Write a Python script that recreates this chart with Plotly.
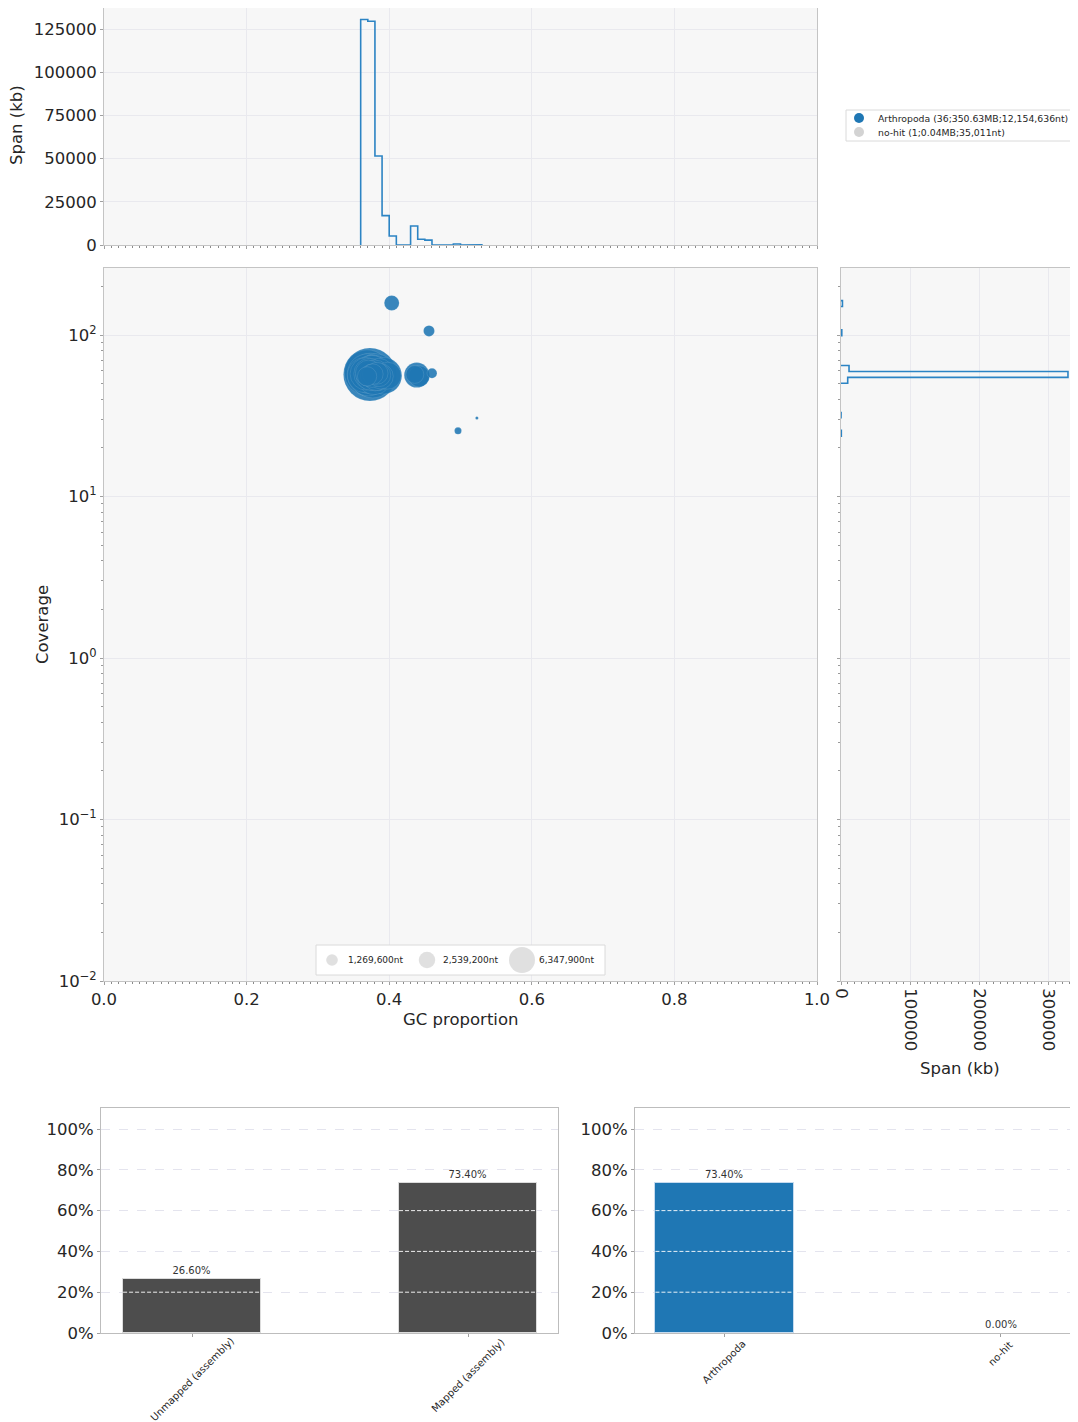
import numpy as np
import plotly.graph_objects as go

# page is rendered with an 8px body margin: work in page pixels, convert to figure fractions
OFF = 8
W, H = 1070, 1414
PW, PH = W + OFF, H + OFF
FONT = "DejaVu Sans"
TXT = "#262626"
BLUE = "#1f77b4"
GREY = "#d3d3d3"
PANEL = "#f7f7f7"
GRID = "#e9e9ee"
LINE = "#c4c4c4"
FS = 16.5


def fx(p):
    return min(1.0, max(0.0, (p - OFF) / W))


def fy(p):
    return min(1.0, max(0.0, 1 - (p - OFF) / H))


# ---------------- data ----------------
# Arthropoda contigs: GC, coverage, length (nt)
contig_gc = [0.373, 0.369, 0.374, 0.377, 0.370, 0.381, 0.378, 0.371, 0.392, 0.375,
             0.373, 0.366, 0.376, 0.379, 0.368, 0.385, 0.380, 0.372, 0.374, 0.382,
             0.398, 0.371, 0.388, 0.4386, 0.376, 0.386, 0.383, 0.442, 0.377, 0.369,
             0.436, 0.4035, 0.4558, 0.460, 0.4965, 0.523]
contig_cov = [57.0, 58.5, 56.5, 55.5, 57.0, 57.5, 57.0, 55.0, 56.0, 58.0,
              55.8, 56.5, 58.5, 54.5, 57.5, 57.0, 56.2, 57.5, 56.0, 55.0,
              56.0, 58.0, 55.5, 56.5, 56.0, 56.5, 58.0, 55.5, 57.2, 55.5,
              57.0, 158.0, 106.0, 58.0, 25.5, 30.6]
contig_len = [26400000, 19500000, 18000000, 17500000, 16000000, 15000000, 14000000, 13500000, 12600000, 12154636,
              12000000, 11500000, 11000000, 10800000, 10000000, 9800000, 9000000, 9000000, 8000000, 7000000,
              6800000, 6500000, 6000000, 5900000, 5200000, 5000000, 4500000, 4200000, 4000000, 3500000,
              3000000, 2100000, 1140000, 940000, 460000, 85000]
# no-hit contig
nohit_gc = [0.497]
nohit_cov = [26.0]
nohit_len = [35011]

# GC histogram (span in kb per 0.01 GC bin)
gc_bin_lo = [0.36, 0.37, 0.38, 0.39, 0.40, 0.41, 0.42, 0.43, 0.44, 0.45,
             0.46, 0.47, 0.48, 0.49, 0.50, 0.51, 0.52]
gc_bin_width = 0.01
gc_span_kb = [130500, 129500, 51500, 17000, 5200, 0, 0, 11000, 3300, 2800,
              0, 0, 0, 600, 0, 0, 150]

# coverage histogram (log10 bins, span in kb)
cov_bin_lo_log = [1.374, 1.4835, 1.7015, 1.738, 1.7745, 1.9955, 2.1765]
cov_bin_width_log = 0.0365
cov_span_kb = [460, 120, 9700, 328000, 11600, 1140, 2100]

# bar charts
map_cats = ["Unmapped (assembly)", "Mapped (assembly)"]
map_pct = [26.60, 73.40]
tax_cats = ["Arthropoda", "no-hit"]
tax_pct = [73.40, 0.00]

legend_labels = ["Arthropoda (36;350.63MB;12,154,636nt)", "no-hit (1;0.04MB;35,011nt)"]
legend_colors = [BLUE, GREY]
size_legend_nt = [1269600, 2539200, 6347900]
size_legend_labels = ["1,269,600nt", "2,539,200nt", "6,347,900nt"]

SIZE_K = 26.0 / np.sqrt(6347900)


def diam(lengths):
    return [SIZE_K * np.sqrt(v) for v in lengths]


def step_outline(lo, width, vals):
    """Step outline; separate runs of adjacent bins are broken with None."""
    pos, val = [], []
    prev_end = None
    for l, v in zip(lo, vals):
        if prev_end is None or l > prev_end + 1e-9:
            if prev_end is not None:
                pos += [prev_end, None]
                val += [0, None]
            pos.append(l)
            val.append(0)
        pos += [l, l + width]
        val += [v, v]
        prev_end = l + width
    pos.append(prev_end)
    val.append(0)
    return pos, val


fig = go.Figure()

# top histogram
gx, gy = step_outline(gc_bin_lo, gc_bin_width, gc_span_kb)
fig.add_trace(go.Scatter(x=gx, y=gy, mode="lines", line=dict(color="#2c84c4", width=1.6),
                         xaxis="x", yaxis="y", hoverinfo="skip", connectgaps=False))

# scatter
fig.add_trace(go.Scatter(x=nohit_gc, y=nohit_cov, mode="markers", xaxis="x2", yaxis="y2",
                         marker=dict(size=diam(nohit_len), sizemode="diameter", color=GREY,
                                     line=dict(width=0))))
order = np.argsort(contig_len)[::-1]
fig.add_trace(go.Scatter(x=[contig_gc[i] for i in order], y=[contig_cov[i] for i in order],
                         mode="markers", xaxis="x2", yaxis="y2",
                         marker=dict(size=diam([contig_len[i] for i in order]), sizemode="diameter",
                                     color=BLUE, opacity=0.88,
                                     line=dict(width=0.5, color="rgba(255,255,255,0.25)"))))

# right histogram
cl, cv = step_outline(cov_bin_lo_log, cov_bin_width_log, cov_span_kb)
fig.add_trace(go.Scatter(x=cv, y=[None if p is None else 10 ** p for p in cl], mode="lines",
                         line=dict(color="#2c84c4", width=1.6), xaxis="x3", yaxis="y3",
                         hoverinfo="skip", connectgaps=False))

# bars
fig.add_trace(go.Bar(x=map_cats, y=map_pct, xaxis="x4", yaxis="y4", width=0.5,
                     marker=dict(color="#4d4d4d", line=dict(color="#dcdcdc", width=1)),
                     text=[f"{v:.2f}%" for v in map_pct], textposition="outside",
                     textfont=dict(family=FONT, size=10, color="#333333"), cliponaxis=False))
fig.add_trace(go.Bar(x=tax_cats, y=tax_pct, xaxis="x5", yaxis="y5", width=0.5,
                     marker=dict(color=BLUE, line=dict(color="#c6dbef",
                                                       width=[1 if v > 0 else 0 for v in tax_pct])),
                     text=[f"{v:.2f}%" for v in tax_pct], textposition="outside",
                     textfont=dict(family=FONT, size=10, color="#333333"), cliponaxis=False))

# legends (page-pixel overlay axis)
fig.add_trace(go.Scatter(x=[859, 859], y=[118, 132], mode="markers", xaxis="x6", yaxis="y6",
                         marker=dict(size=10, color=legend_colors, line=dict(width=0)), hoverinfo="skip"))
fig.add_trace(go.Scatter(x=[332, 427, 522], y=[960, 960, 960], mode="markers", xaxis="x6", yaxis="y6",
                         marker=dict(size=diam(size_legend_nt), sizemode="diameter", color=GREY,
                                     line=dict(width=0)), hoverinfo="skip"))


def ax(**kw):
    d = dict(showline=True, linecolor=LINE, linewidth=1, mirror=True, showgrid=True,
             gridcolor=GRID, gridwidth=1, zeroline=False, ticks="outside", ticklen=3,
             tickcolor="#a0a0a0", automargin=False,
             tickfont=dict(family=FONT, size=FS, color=TXT))
    d.update(kw)
    return d


main_y_dom = [fy(981), fy(268)]
decades = [0.01, 0.1, 1, 10, 100]
dec_text = ["10<sup>−2</sup>", "10<sup>−1</sup>", "10<sup>0</sup>", "10<sup>1</sup>", "10<sup>2</sup>"]
log_minor = [m * d for d in decades for m in range(2, 10)]
bar_dom = [fy(1333), fy(1108)]
pct_vals = [0, 20, 40, 60, 80, 100]
span_ticks = [0, 25000, 50000, 75000, 100000, 125000]
span_ticks_r = [0, 100000, 200000, 300000]
# top histogram: 0 at page y 245, 125000 at page y 29; plot top clipped at page y 8
kb_per_px = 125000 / (245 - 29)
top_range_max = (245 - OFF) * kb_per_px

minor_gc = dict(ticks="outside", ticklen=2, tickcolor="#8a8a8a", dtick=0.01, tick0=0, showgrid=False)
minor_log = dict(ticks="outside", ticklen=2, tickcolor="#9a9a9a", tickmode="array", tickvals=log_minor,
                 showgrid=False)

fig.update_layout(
    width=W, height=H, margin=dict(l=0, r=0, t=0, b=0, pad=0), template="none",
    paper_bgcolor="white", plot_bgcolor="rgba(0,0,0,0)", showlegend=False,
    font=dict(family=FONT, color=TXT, size=FS), bargap=0,
    xaxis=ax(domain=[fx(104), fx(817)], range=[0, 1], dtick=0.2, tick0=0, showticklabels=False,
             anchor="y", minor=minor_gc),
    yaxis=ax(domain=[fy(245), fy(OFF)], range=[0, top_range_max],
             tickvals=span_ticks, ticktext=[str(v) for v in span_ticks], anchor="x"),
    xaxis2=ax(domain=[fx(104), fx(817)], range=[0, 1], dtick=0.2, tick0=0,
              tickformat=".1f", anchor="y2", minor=minor_gc),
    yaxis2=ax(domain=main_y_dom, type="log", range=[-2, 2.415], tickvals=decades, ticktext=dec_text,
              anchor="x2", minor=minor_log),
    xaxis3=ax(domain=[fx(841), 1], range=[0, 342500], dtick=100000, tick0=0,
              tickformat="d", tickangle=90, anchor="y3",
              minor=dict(ticks="outside", ticklen=2, tickcolor="#8a8a8a", dtick=10000, tick0=0,
                         showgrid=False)),
    yaxis3=ax(domain=main_y_dom, type="log", range=[-2, 2.415], tickvals=decades,
              showticklabels=False, anchor="x3", mirror=False, minor=minor_log),
    xaxis4=ax(domain=[fx(101), fx(558)], type="category", range=[-0.33, 1.326], showticklabels=False,
              showgrid=False, anchor="y4", linecolor="#bdbdbd"),
    yaxis4=ax(domain=bar_dom, range=[0, 110.3], tickvals=pct_vals, ticktext=[f"{v}%" for v in pct_vals],
              griddash="dash", gridcolor="#e4e4ee", anchor="x4", linecolor="#bdbdbd"),
    xaxis5=ax(domain=[fx(635), 1], type="category", range=[-0.324, 1.28], showticklabels=False,
              showgrid=False, anchor="y5", linecolor="#bdbdbd"),
    yaxis5=ax(domain=bar_dom, range=[0, 110.3], tickvals=pct_vals, ticktext=[f"{v}%" for v in pct_vals],
              griddash="dash", gridcolor="#e4e4ee", anchor="x5", linecolor="#bdbdbd"),
    xaxis6=dict(domain=[0, 1], range=[OFF, PW], visible=False, anchor="y6", fixedrange=True),
    yaxis6=dict(domain=[0, 1], range=[PH, OFF], visible=False, anchor="x6", fixedrange=True),
)

shapes = []
for xr, yr in [("x", "y"), ("x2", "y2"), ("x3", "y3")]:
    shapes.append(dict(type="rect", xref=f"{xr} domain", yref=f"{yr} domain", x0=0, x1=1, y0=0, y1=1,
                       fillcolor=PANEL, line=dict(width=0), layer="below"))
# white dashed gridlines across the bars
for xr, yr, vals in [("x4", "y4", map_pct), ("x5", "y5", tax_pct)]:
    for i, v in enumerate(vals):
        for g in pct_vals[1:]:
            if g < v:
                shapes.append(dict(type="line", xref=xr, yref=yr, x0=i - 0.25, x1=i + 0.25, y0=g, y1=g,
                                   line=dict(color="rgba(255,255,255,0.9)", width=1, dash="4px,2px"),
                                   layer="above"))
# legend boxes
shapes.append(dict(type="rect", xref="x6", yref="y6", x0=846, x1=1073, y0=110, y1=141,
                   fillcolor="white", line=dict(color="#dadada", width=1), layer="below"))
shapes.append(dict(type="rect", xref="x6", yref="y6", x0=316, x1=605, y0=945, y1=975,
                   fillcolor="white", line=dict(color="#dadada", width=1), layer="below"))
fig.update_layout(shapes=shapes)

ann = []
for lab, yy in zip(legend_labels, [118, 132]):
    ann.append(dict(text=lab, xref="x6", yref="y6", x=876, y=yy, xanchor="left", yanchor="middle",
                    showarrow=False, font=dict(family=FONT, size=9.3, color=TXT)))
for lab, xx in zip(size_legend_labels, [346, 441, 537]):
    ann.append(dict(text=lab, xref="x6", yref="y6", x=xx, y=960, xanchor="left", yanchor="middle",
                    showarrow=False, font=dict(family=FONT, size=9, color=TXT)))
# axis titles
for txt, px, py, ang in [("Span (kb)", 16, 125, -90), ("Coverage", 42, 625, -90),
                         ("GC proportion", 461, 1020, 0), ("Span (kb)", 960, 1068, 0)]:
    ann.append(dict(text=txt, xref="paper", yref="paper", x=fx(px), y=fy(py), xanchor="center",
                    yanchor="middle", textangle=ang, showarrow=False,
                    font=dict(family=FONT, size=FS, color=TXT)))
# rotated category labels (centred under their tick, like matplotlib rotation=45)
for xr, cats in [("x4", map_cats), ("x5", tax_cats)]:
    for i, c in enumerate(cats):
        cy = 1340 + len(c) * 5.6 * 0.3536 + 2
        ann.append(dict(text=c, xref=xr, yref="paper", x=i, y=fy(cy), xanchor="center",
                        yanchor="middle", textangle=-45, showarrow=False,
                        font=dict(family=FONT, size=10, color=TXT)))
fig.update_layout(annotations=ann)

fig.write_html("out.html")
